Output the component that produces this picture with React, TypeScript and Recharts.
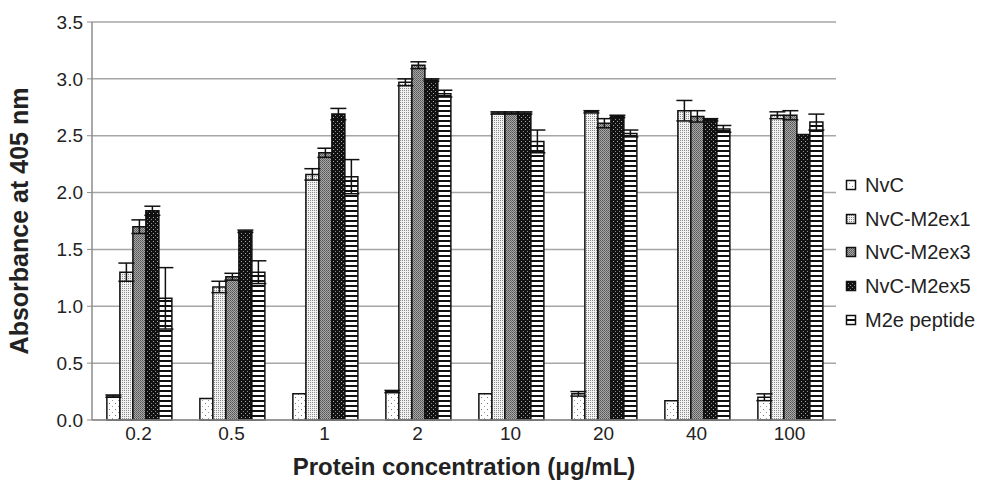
import React from 'react';
import { BarChart, Bar, XAxis, YAxis, CartesianGrid, ErrorBar } from 'recharts';

const categories = ['0.2', '0.5', '1', '2', '10', '20', '40', '100'];
const seriesNames = ['NvC', 'NvC-M2ex1', 'NvC-M2ex3', 'NvC-M2ex5', 'M2e peptide'];
const nvc = [0.21, 0.19, 0.23, 0.25, 0.23, 0.23, 0.17, 0.2];
const ex1 = [1.3, 1.17, 2.16, 2.97, 2.7, 2.71, 2.72, 2.68];
const ex3 = [1.7, 1.26, 2.35, 3.12, 2.7, 2.61, 2.67, 2.68];
const ex5 = [1.84, 1.66, 2.69, 2.99, 2.7, 2.67, 2.64, 2.51];
const m2e = [1.07, 1.3, 2.14, 2.87, 2.45, 2.52, 2.56, 2.62];
const nvcErr = [0.01, 0, 0, 0.01, 0, 0.02, 0, 0.03];
const ex1Err = [0.08, 0.05, 0.05, 0.03, 0.01, 0.01, 0.09, 0.03];
const ex3Err = [0.06, 0.03, 0.04, 0.03, 0.01, 0.04, 0.05, 0.04];
const ex5Err = [0.04, 0.01, 0.05, 0.01, 0.01, 0.01, 0.01, 0];
const m2eErr = [0.27, 0.1, 0.15, 0.03, 0.1, 0.03, 0.03, 0.07];
const yTicks = [0, 0.5, 1, 1.5, 2, 2.5, 3, 3.5];

const values = [nvc, ex1, ex3, ex5, m2e];
const errors = [nvcErr, ex1Err, ex3Err, ex5Err, m2eErr];
const keys = ['s0', 's1', 's2', 's3', 's4'];
const patternIds = ['pNvC', 'pEx1', 'pEx3', 'pEx5', 'pM2e'];

const data = categories.map((c, i) => {
  const row: any = { name: c };
  keys.forEach((k, j) => {
    row[k] = values[j][i];
    row[k + 'e'] = errors[j][i];
  });
  return row;
});

const FONT = '"Liberation Sans", Arial, Helvetica, sans-serif';

const Patterns = () => (
  <svg width={0} height={0} style={{ position: 'absolute', left: 0, top: 0 }}>
    <defs>
      <pattern id="pNvC" width={6} height={6} patternUnits="userSpaceOnUse">
        <rect width={6} height={6} fill="#ffffff" />
        <rect x={1} y={1} width={1} height={1} fill="#777" />
        <rect x={4} y={4} width={1} height={1} fill="#999" />
      </pattern>
      <pattern id="pEx1" width={2} height={2} patternUnits="userSpaceOnUse">
        <rect width={2} height={2} fill="#f2f2f2" />
        <rect x={0} y={0} width={1} height={1} fill="#8a8a8a" />
      </pattern>
      <pattern id="pEx3" width={2} height={2} patternUnits="userSpaceOnUse">
        <rect width={2} height={2} fill="#a8a8a8" />
        <rect x={0} y={0} width={1} height={1} fill="#555" />
        <rect x={1} y={1} width={1} height={1} fill="#6a6a6a" />
      </pattern>
      <pattern id="pEx5" width={4} height={4} patternUnits="userSpaceOnUse">
        <rect width={4} height={4} fill="#111" />
        <rect x={1} y={1} width={1} height={1} fill="#aaa" />
        <rect x={3} y={3} width={1} height={1} fill="#888" />
      </pattern>
      <pattern id="pM2e" width={5} height={5} patternUnits="userSpaceOnUse">
        <rect width={5} height={5} fill="#ffffff" />
        <rect x={0} y={0} width={5} height={2} fill="#111" />
      </pattern>
    </defs>
  </svg>
);

const LegendBox = () => (
  <div
    style={{
      position: 'absolute',
      left: 845,
      top: 168,
      fontFamily: FONT,
      fontSize: 20,
      color: '#222',
      lineHeight: 1,
    }}
  >
    {seriesNames.map((n, i) => (
      <div key={n} style={{ display: 'flex', alignItems: 'center', height: 33.7 }}>
        <svg width={12} height={12} style={{ marginRight: 8 }}>
          <rect x={1.5} y={1.5} width={9} height={9} fill={`url(#${patternIds[i]})`} stroke="#111" strokeWidth={1.5} />
        </svg>
        <span>{n}</span>
      </div>
    ))}
  </div>
);

export default function App() {
  return (
    <div style={{ position: 'absolute', left: 0, top: 0, width: 985, height: 481, background: '#fff' }}>
      <Patterns />
      <BarChart
        width={985}
        height={481}
        data={data}
        margin={{ top: 22, right: 149, left: 30, bottom: 31 }}
        barCategoryGap="16%"
        barGap={0}
      >
        <CartesianGrid vertical={false} stroke="#a6a6a6" strokeWidth={1.5} />
        <XAxis
          dataKey="name"
          height={30}
          axisLine={{ stroke: '#8c8c8c', strokeWidth: 1.5 }}
          tickLine={false}
          tick={{ fontSize: 19, fill: '#222', fontFamily: FONT }}
          tickMargin={1}
          label={{
            value: 'Protein concentration (μg/mL)',
            position: 'insideBottom',
            offset: -25,
            style: { fontSize: 24, fontWeight: 'bold', fill: '#222', fontFamily: FONT },
          }}
        />
        <YAxis
          width={62}
          domain={[0, 3.5]}
          ticks={yTicks}
          tickFormatter={(v: number) => v.toFixed(1)}
          axisLine={{ stroke: '#8c8c8c', strokeWidth: 1.5 }}
          tickLine={{ stroke: '#8c8c8c', strokeWidth: 1 }}
          tickSize={5}
          tickMargin={4}
          tick={{ fontSize: 19, fill: '#222', fontFamily: FONT }}
          label={{
            value: 'Absorbance at 405 nm',
            angle: -90,
            position: 'insideLeft',
            offset: -11,
            style: { fontSize: 25, fontWeight: 'bold', fill: '#222', fontFamily: FONT, textAnchor: 'middle' },
          }}
        />
        {keys.map((k, j) => (
          <Bar
            key={k}
            dataKey={k}
            name={seriesNames[j]}
            fill={`url(#${patternIds[j]})`}
            stroke="#111"
            strokeWidth={1.5}
            isAnimationActive={false}
          >
            <ErrorBar dataKey={k + 'e'} width={8} stroke="#111" strokeWidth={1.5} direction="y" />
          </Bar>
        ))}
      </BarChart>
      <LegendBox />
    </div>
  );
}
